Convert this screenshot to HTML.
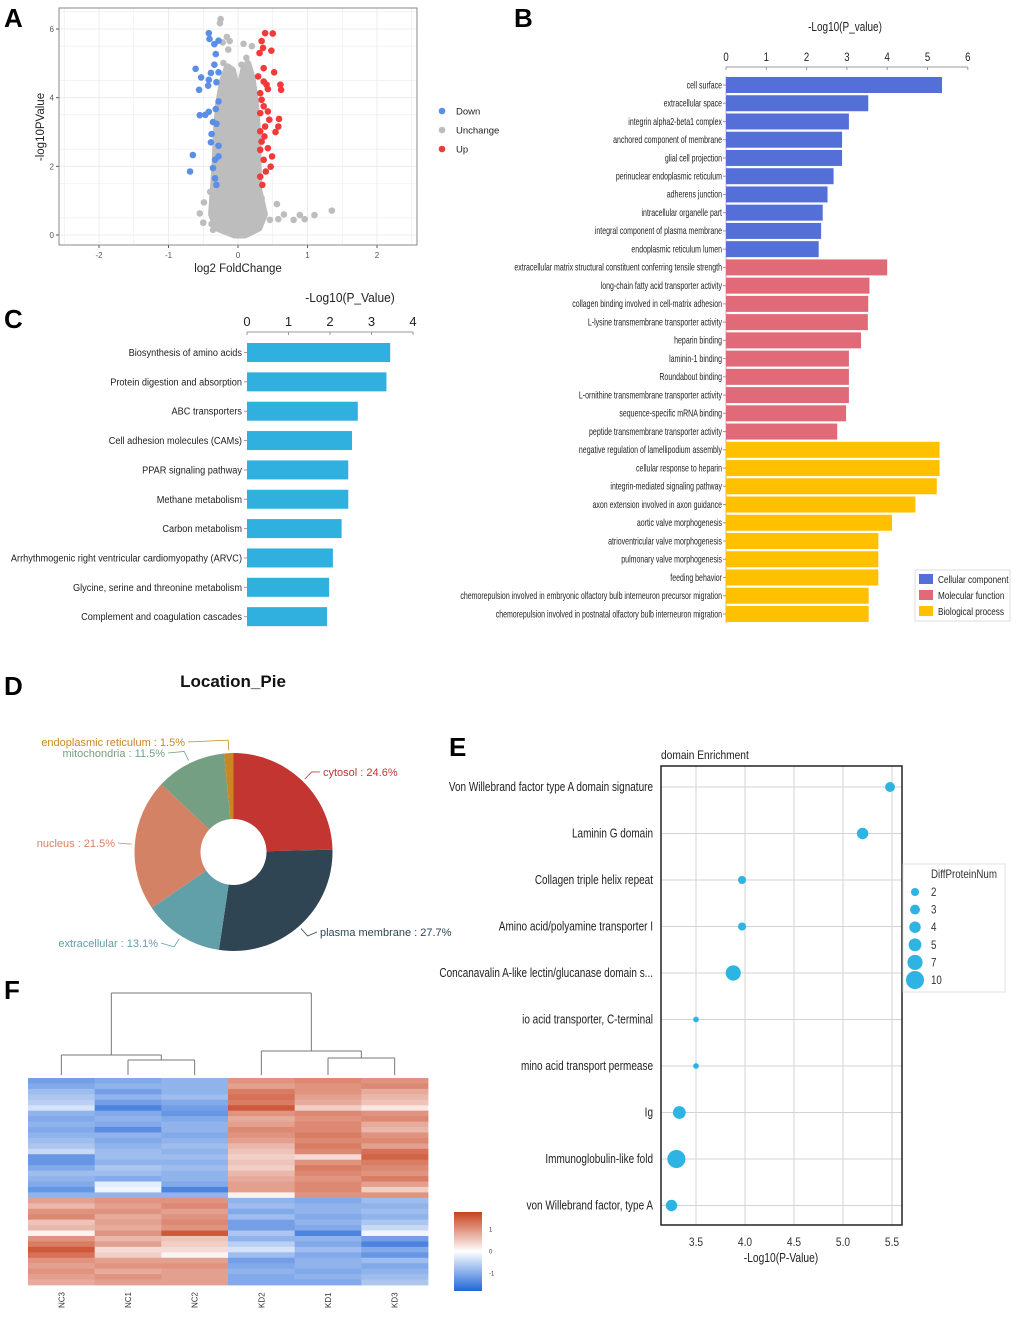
<!DOCTYPE html>
<html><head><meta charset="utf-8"><style>
html,body{margin:0;padding:0;background:#fff}
svg{display:block;font-family:"Liberation Sans",sans-serif}
</style></head><body>
<svg id="fig" width="1020" height="1317" viewBox="0 0 1020 1317" xmlns="http://www.w3.org/2000/svg">
<rect width="1020" height="1317" fill="#fff"/>
<g font-weight="bold" font-size="26" fill="#000">
<text x="4" y="27">A</text>
<text x="514" y="27">B</text>
<text x="4" y="328">C</text>
<text x="4" y="695">D</text>
<text x="449" y="756">E</text>
<text x="4" y="999">F</text>
</g>
</svg>
<script>
// ---------- DATA ----------
// Panel A volcano
const downX=[-0.42,-0.41,-0.34,-0.28,-0.32,-0.34,-0.61,-0.39,-0.28,-0.53,-0.42,-0.31,-0.56,-0.43,-0.28,-0.55,-0.47,-0.42,-0.32,-0.36,-0.31,-0.38,-0.39,-0.28,-0.65,-0.33,-0.28,-0.69,-0.36,-0.33,-0.31];
const downY=[5.88,5.71,5.56,5.66,5.27,4.96,4.84,4.72,4.74,4.59,4.52,4.45,4.23,4.35,3.89,3.49,3.50,3.59,3.67,3.29,3.24,2.94,2.70,2.60,2.33,2.19,2.29,1.85,1.95,1.65,1.46];
const upX=[0.39,0.50,0.34,0.36,0.48,0.31,0.37,0.52,0.29,0.37,0.41,0.61,0.62,0.43,0.32,0.34,0.37,0.43,0.32,0.45,0.59,0.58,0.54,0.39,0.32,0.38,0.34,0.43,0.32,0.49,0.37,0.47,0.40,0.32,0.35];
const upY=[5.88,5.87,5.65,5.45,5.37,5.30,4.86,4.74,4.62,4.47,4.38,4.38,4.23,4.25,4.13,3.94,3.75,3.60,3.55,3.36,3.38,3.16,3.00,3.16,3.02,2.87,2.72,2.53,2.48,2.29,2.19,1.99,1.85,1.70,1.46];
const grayX=[-0.25,-0.26,-0.22,-0.16,-0.12,-0.14,0.08,0.20,0.12,0.05,-0.21,-0.16,-0.40,-0.49,-0.55,-0.50,-0.38,0.56,0.34,0.46,0.58,0.66,0.80,0.89,0.96,1.10,1.35,0.37,0.22,-0.36,-0.10,0.10,0.15,-0.20];
const grayY=[6.29,6.17,5.61,5.77,5.65,5.40,5.57,5.50,5.16,4.96,5.01,4.86,1.26,0.95,0.63,0.36,0.32,0.90,1.07,0.44,0.46,0.60,0.44,0.58,0.46,0.58,0.71,0.68,0.24,0.15,4.60,4.80,4.40,4.20];
const cloudX=[-0.05,-0.3,-0.38,-0.36,-0.33,-0.31,-0.28,-0.22,-0.15,-0.08,-0.02,0.03,0.08,0.14,0.2,0.25,0.28,0.29,0.3,0.38,0.3,0.1];
const cloudY=[0.0,0.2,0.6,1.2,2.0,3.0,3.8,4.5,4.9,4.8,4.3,4.3,4.8,5.0,4.6,3.9,3.0,2.0,1.3,0.6,0.2,0.0];
const volXTicks=[-2,-1,0,1,2];
const volYTicks=[0,2,4,6];

// Panel B GO
const goTerms=["cell surface","extracellular space","integrin alpha2-beta1 complex","anchored component of membrane","glial cell projection","perinuclear endoplasmic reticulum","adherens junction","intracellular organelle part","integral component of plasma membrane","endoplasmic reticulum lumen","extracellular matrix structural constituent conferring tensile strength","long-chain fatty acid transporter activity","collagen binding involved in cell-matrix adhesion","L-lysine transmembrane transporter activity","heparin binding","laminin-1 binding","Roundabout binding","L-ornithine transmembrane transporter activity","sequence-specific mRNA binding","peptide transmembrane transporter activity","negative regulation of lamellipodium assembly","cellular response to heparin","integrin-mediated signaling pathway","axon extension involved in axon guidance","aortic valve morphogenesis","atrioventricular valve morphogenesis","pulmonary valve morphogenesis","feeding behavior","chemorepulsion involved in embryonic olfactory bulb interneuron precursor migration","chemorepulsion involved in postnatal olfactory bulb interneuron migration"];
const goValues=[5.36,3.53,3.05,2.88,2.88,2.67,2.52,2.40,2.36,2.30,4.0,3.56,3.53,3.52,3.35,3.05,3.05,3.05,2.98,2.76,5.3,5.3,5.23,4.7,4.12,3.78,3.78,3.78,3.54,3.54];
const goCategory=["CC","CC","CC","CC","CC","CC","CC","CC","CC","CC","MF","MF","MF","MF","MF","MF","MF","MF","MF","MF","BP","BP","BP","BP","BP","BP","BP","BP","BP","BP"];
const goTicks=[0,1,2,3,4,5,6];

// Panel C KEGG
const keggTerms=["Biosynthesis of amino acids","Protein digestion and absorption","ABC transporters","Cell adhesion molecules (CAMs)","PPAR signaling pathway","Methane metabolism","Carbon metabolism","Arrhythmogenic right ventricular cardiomyopathy (ARVC)","Glycine, serine and threonine metabolism","Complement and coagulation cascades"];
const keggValues=[3.45,3.36,2.67,2.53,2.44,2.44,2.28,2.07,1.98,1.93];
const keggTicks=[0,1,2,3,4];

// Panel D pie
const pieLabels=["cytosol","plasma membrane","extracellular","nucleus","mitochondria","endoplasmic reticulum"];
const pieValues=[24.6,27.7,13.1,21.5,11.5,1.5];

// Panel E domain
const domTerms=["Von Willebrand factor type A domain signature","Laminin G domain","Collagen triple helix repeat","Amino acid/polyamine transporter I","Concanavalin A-like lectin/glucanase domain s...","io acid transporter, C-terminal","mino acid transport permease","Ig","Immunoglobulin-like fold","von Willebrand factor, type A"];
const domValues=[5.48,5.2,3.97,3.97,3.88,3.5,3.5,3.33,3.3,3.25];
const domCounts=[3,4,2,2,7,1,1,5,10,4];
const domTicks=[3.5,4.0,4.5,5.0,5.5];
const sizeLegend=[2,3,4,5,7,10];

// Panel F heatmap
const heatCols=["NC3","NC1","NC2","KD2","KD1","KD3"];
const heatRows=[
[-1.0,-0.9,-0.8,0.9,1.0,0.9],[-0.9,-0.8,-0.8,0.8,0.9,1.0],[-0.7,-1.0,-0.8,1.1,0.9,0.7],[-0.6,-0.8,-0.7,1.2,0.8,0.6],
[-0.5,-1.0,-0.9,1.1,0.7,0.5],[-0.3,-1.3,-1.0,1.4,0.4,0.2],[-0.8,-0.9,-1.1,0.9,1.0,0.9],[-0.9,-0.8,-0.9,0.7,0.9,1.0],
[-0.8,-0.9,-0.8,0.8,1.0,0.7],[-0.9,-1.2,-0.8,1.0,1.0,0.6],[-0.8,-0.8,-0.9,0.9,1.1,0.9],[-0.7,-0.9,-0.8,0.8,1.0,1.0],
[-0.6,-0.8,-0.7,0.6,1.1,0.8],[-0.4,-0.7,-0.8,0.5,1.0,1.2],[-1.1,-0.7,-0.7,0.4,0.3,1.3],[-1.1,-0.8,-0.8,0.5,0.9,1.1],
[-0.9,-0.6,-0.7,0.4,1.1,1.0],[-0.7,-0.7,-0.8,0.6,1.0,0.9],[-0.8,-0.9,-0.8,0.7,0.9,1.1],[-0.9,-0.2,-0.9,0.8,1.0,0.8],
[-1.1,-0.1,-1.3,0.8,1.0,0.4],[-0.8,-0.8,-0.8,0.1,0.9,0.9],
[0.8,0.9,0.9,-0.8,-0.9,-0.7],[0.6,0.8,1.0,-0.7,-0.8,-0.8],[0.9,0.9,0.8,-0.9,-0.8,-0.7],[1.0,0.7,0.9,-0.7,-0.9,-0.8],
[0.5,0.8,1.0,-1.0,-0.8,-0.6],[0.6,0.7,0.9,-1.0,-0.9,-0.4],[0.1,0.9,1.4,-0.6,-1.3,-0.1],[0.9,0.6,0.5,-0.8,-0.8,-1.0],
[1.1,0.8,0.4,-0.5,-0.9,-1.3],[1.4,0.3,0.3,-0.3,-0.7,-0.9],[1.2,0.4,0.1,-0.7,-0.9,-1.1],[0.9,0.8,0.8,-1.0,-0.8,-0.7],
[0.8,0.9,0.9,-0.9,-0.8,-0.9],[0.9,0.7,0.8,-0.8,-0.9,-0.8],[0.8,0.9,0.8,-0.9,-0.8,-0.7],[0.7,0.8,0.8,-0.9,-0.9,-0.6]];
const colorTicks=[1,0,-1];

// ---------- HELPERS ----------
const NS="http://www.w3.org/2000/svg";
const svg=document.getElementById('fig');
function mk(tag,attrs,parent){const e=document.createElementNS(NS,tag);for(const k in attrs)e.setAttribute(k,attrs[k]);(parent||svg).appendChild(e);return e;}
function txt(s,x,y,attrs,parent,sx){const a=Object.assign({},attrs);if(sx){a.transform=`translate(${x},${y}) scale(${sx},1)`;a.x=0;a.y=0;}else{a.x=x;a.y=y;}const t=mk('text',a,parent);t.textContent=s;return t;}

// ---------- PANEL A ----------
(function(){
const g=mk('g',{});


const L=59,R=417,T=8,B=245;
const sx=v=>238+v*69.5, sy=v=>235-v*34.33;
const bg=mk('rect',{x:L,y:T,width:R-L,height:B-T,fill:'#fff'},g);


for(let v=-2.5;v<=2.5;v+=0.5){const gl=mk('line',{x1:sx(v),x2:sx(v),y1:T,y2:B,stroke:'#ececec','stroke-width':Number.isInteger(v)?1:0.6},g);}
for(let v=-0.5;v<=6.5;v+=1){if(sy(v)>T&&sy(v)<B){const gl=mk('line',{x1:L,x2:R,y1:sy(v),y2:sy(v),stroke:'#ececec','stroke-width':0.6},g);}}
volYTicks.forEach(v=>{const gl=mk('line',{x1:L,x2:R,y1:sy(v),y2:sy(v),stroke:'#ececec'},g);
 const t=txt(String(v),54,sy(v)+3,{'font-size':8,fill:'#555','text-anchor':'end'},g);
 mk('line',{x1:56,x2:L,y1:sy(v),y2:sy(v),stroke:'#555'},g);});
volXTicks.forEach(v=>{const t=txt(String(v),sx(v),258,{'font-size':8,fill:'#555','text-anchor':'middle'},g);mk('line',{x1:sx(v),x2:sx(v),y1:B,y2:B+3,stroke:'#555'},g);});
const cl=mk('polygon',{points:cloudX.map((x,i)=>sx(x)+','+sy(cloudY[i])).join(' '),fill:'#bdbdbd',stroke:'#bdbdbd','stroke-width':7,'stroke-linejoin':'round'},g);


grayX.forEach((x,i)=>{const c=mk('circle',{cx:sx(x),cy:sy(grayY[i]),r:3.3,fill:'#bdbdbd'},g);});
downX.forEach((x,i)=>{const c=mk('circle',{cx:sx(x),cy:sy(downY[i]),r:3.3,fill:'#5b8ee6'},g);});
upX.forEach((x,i)=>{const c=mk('circle',{cx:sx(x),cy:sy(upY[i]),r:3.3,fill:'#f23a3a'},g);});
const fr=mk('rect',{x:L,y:T,width:R-L,height:B-T,fill:'none',stroke:'#888'},g);


const xt=txt('log2 FoldChange',238,272,{'font-size':11.5,fill:'#222','text-anchor':'middle'},g);


const yt=mk('text',{x:0,y:0,transform:'translate(44,127) rotate(-90)','font-size':11.5,fill:'#222','text-anchor':'middle'},g);yt.textContent='-log10PValue';


[['Down','#5b8ee6',111],['Unchange','#bdbdbd',130],['Up','#f23a3a',149]].forEach(d=>{
 const lg=mk('g',{},g);
 
 
 mk('circle',{cx:442,cy:d[2],r:3.3,fill:d[1]},lg);txt(d[0],456,d[2]+3.5,{'font-size':9.5,fill:'#222'},lg);});
})();

// ---------- PANEL B ----------
(function(){
const g=mk('g',{});


const x0=726, sx=v=>x0+v*40.3, rowY=i=>85+i*18.24;
const cols={CC:'#5470d8',MF:'#e06a78',BP:'#ffc000'};
const t=txt('-Log10(P_value)',845,31,{'font-size':12.5,fill:'#222','text-anchor':'middle'},g,0.8);


mk('line',{x1:sx(0),x2:sx(6),y1:67,y2:67,stroke:'#999'},g);
goTicks.forEach(v=>{mk('line',{x1:sx(v),x2:sx(v),y1:67,y2:70,stroke:'#999'},g);const tk=txt(String(v),sx(v),61,{'font-size':12,fill:'#222','text-anchor':'middle'},g,0.8);});
mk('line',{x1:x0,x2:x0,y1:76,y2:623,stroke:'#bbb'},g);
goTerms.forEach((s,i)=>{const y=rowY(i);
 const b=mk('rect',{x:x0,y:y-8,width:sx(goValues[i])-x0,height:16,fill:cols[goCategory[i]]},g);
 
 
 mk('line',{x1:x0-3,x2:x0,y1:y,y2:y,stroke:'#999'},g);
 const l=txt(s,722,y+3.3,{'font-size':10,fill:'#222','text-anchor':'end'},g,0.7);
 
 });
const lg=mk('g',{},g);


mk('rect',{x:915,y:570,width:95,height:51,fill:'#fff',stroke:'#ddd'},lg);
[['Cellular component','#5470d8'],['Molecular function','#e06a78'],['Biological process','#ffc000']].forEach((d,i)=>{
 const e=mk('g',{},lg);
 
 
 mk('rect',{x:919,y:574+i*16,width:14,height:10,fill:d[1]},e);txt(d[0],938,583+i*16,{'font-size':10.5,fill:'#222'},e,0.78);});
})();

// ---------- PANEL C ----------
(function(){
const g=mk('g',{});


const x0=247, sx=v=>x0+v*41.5, rowY=i=>352.5+i*29.35;
const t=txt('-Log10(P_Value)',350,302,{'font-size':13,fill:'#222','text-anchor':'middle'},g,0.92);


mk('line',{x1:sx(0),x2:sx(4),y1:332,y2:332,stroke:'#999'},g);
keggTicks.forEach(v=>{mk('line',{x1:sx(v),x2:sx(v),y1:332,y2:335,stroke:'#999'},g);const tk=txt(String(v),sx(v),326,{'font-size':13,fill:'#222','text-anchor':'middle'},g);});
keggTerms.forEach((s,i)=>{const y=rowY(i);
 const b=mk('rect',{x:x0,y:y-9.5,width:sx(keggValues[i])-x0,height:19,fill:'#2fb0df'},g);
 
 
 mk('line',{x1:x0-3,x2:x0,y1:y,y2:y,stroke:'#999'},g);
 const l=txt(s,242,y+3.5,{'font-size':10,fill:'#222','text-anchor':'end'},g,0.92);
 
 });
})();

// ---------- PANEL D ----------
(function(){
const g=mk('g',{});


const cx=233.5,cy=852,R=99,r=33;
const colors=['#c23531','#2f4554','#61a0a8','#d48265','#749f83','#ca8622'];
const lblColors=['#c23531','#2f4554','#61a0a8','#d48265','#749f83','#ca8622'];
const t=txt('Location_Pie',233,687,{'font-size':17,'font-weight':'bold',fill:'#111','text-anchor':'middle'},g);


const tot=pieValues.reduce((a,b)=>a+b,0);
let a0=0;
const P=(a,rad)=>[cx+rad*Math.sin(a),cy-rad*Math.cos(a)];
const lblPos=[[323,776,'start'],[320,936,'start'],[158,947,'end'],[115,847,'end'],[165,757,'end'],[185,746,'end']];
pieValues.forEach((v,i)=>{const a1=a0+v/tot*2*Math.PI;const lg=(a1-a0)>Math.PI?1:0;
 const p1=P(a0,R),p2=P(a1,R),p3=P(a1,r),p4=P(a0,r);
 const s=mk('path',{d:`M${p1} A${R},${R} 0 ${lg} 1 ${p2} L${p3} A${r},${r} 0 ${lg} 0 ${p4}Z`,fill:colors[i]},g);
 
 
 const am=(a0+a1)/2, e=P(am,R+3), e2=P(am,R+13);
 const lp=lblPos[i]; const tx=lp[2]==='start'?lp[0]-3:lp[0]+3;
 mk('polyline',{points:`${e} ${e2} ${tx},${lp[1]-4}`,fill:'none',stroke:lblColors[i],'stroke-width':0.8},g);
 const l=txt(pieLabels[i]+' : '+v+'%',lp[0],lp[1],{'font-size':11,fill:lblColors[i],'text-anchor':lp[2]},g);
 
 
 a0=a1;});
})();

// ---------- PANEL E ----------
(function(){
const g=mk('g',{});


const L=661,R=902,T=766,B=1225;
const sx=v=>696+(v-3.5)*98, rowY=i=>787+i*46.5, rad=n=>2.86*Math.sqrt(n);
const t=txt('domain Enrichment',661,759,{'font-size':12,fill:'#222'},g,0.85);


domTicks.forEach(v=>{mk('line',{x1:sx(v),x2:sx(v),y1:T,y2:B,stroke:'#d3d3d3','stroke-width':1},g);
 const tk=txt(v.toFixed(1),sx(v),1246,{'font-size':12,fill:'#333','text-anchor':'middle'},g,0.85);
 });
domTerms.forEach((s,i)=>{const y=rowY(i);
 mk('line',{x1:L,x2:R,y1:y,y2:y,stroke:'#d3d3d3'},g);
 const l=txt(s,653,y+4,{'font-size':12.5,fill:'#222','text-anchor':'end'},g,0.8);
 
 });
domValues.forEach((v,i)=>{const c=mk('circle',{cx:sx(v),cy:rowY(i),r:rad(domCounts[i]),fill:'#2eb4e2'},g);
 
 });
const fr=mk('rect',{x:L,y:T,width:R-L,height:B-T,fill:'none',stroke:'#222','stroke-width':1.5},g);


const xt=txt('-Log10(P-Value)',781,1262,{'font-size':12.5,fill:'#222','text-anchor':'middle'},g,0.82);


const lg=mk('g',{},g);


mk('rect',{x:903,y:864,width:102,height:128,fill:'#fff',stroke:'#e2e2e2'},lg);
txt('DiffProteinNum',931,878,{'font-size':11.5,fill:'#333'},lg,0.85);
sizeLegend.forEach((n,i)=>{const y=892+i*17.6;const e=mk('g',{},lg);
 
 
 mk('circle',{cx:915,cy:y,r:rad(n),fill:'#2eb4e2'},e);txt(String(n),931,y+4,{'font-size':11.5,fill:'#333'},e,0.85);});
})();

// ---------- PANEL F ----------
(function(){
const g=mk('g',{});


const L=28,R=428,T=1078,B=1285;
const cw=(R-L)/heatCols.length, rh=(B-T)/heatRows.length;
function col(v){const t=Math.max(-1,Math.min(1,v/1.6));const w=[255,255,255];const e=t>=0?[200,64,30]:[33,102,216];const k=Math.abs(t);return `rgb(${w.map((c,j)=>Math.round(c+(e[j]-c)*k)).join(',')})`;}
heatRows.forEach((row,ri)=>row.forEach((v,ci)=>{const c=mk('rect',{x:L+ci*cw,y:T+ri*rh,width:cw+0.4,height:rh+0.4,fill:col(v)},g);
 
 }));
heatCols.forEach((s,i)=>{const x=L+(i+0.5)*cw;const t=mk('text',{x:0,y:0,transform:`translate(${x+3},1308) rotate(-90)`,'font-size':8,fill:'#333'},g);t.textContent=s;
 
 });
const cx=i=>L+(i+0.5)*cw;
const d=mk('g',{fill:'none',stroke:'#777','stroke-width':1},g);


const segs=[[cx(1),1075,cx(1),1060],[cx(2),1075,cx(2),1060],[cx(1),1060,cx(2),1060],
[cx(0),1075,cx(0),1055],[(cx(1)+cx(2))/2,1060,(cx(1)+cx(2))/2,1055],[cx(0),1055,(cx(1)+cx(2))/2,1055],
[cx(4),1075,cx(4),1058],[cx(5),1075,cx(5),1058],[cx(4),1058,cx(5),1058],
[cx(3),1075,cx(3),1051],[(cx(4)+cx(5))/2,1058,(cx(4)+cx(5))/2,1051],[cx(3),1051,(cx(4)+cx(5))/2,1051],
[(cx(0)+(cx(1)+cx(2))/2)/2,1055,(cx(0)+(cx(1)+cx(2))/2)/2,993],[(cx(3)+(cx(4)+cx(5))/2)/2,1051,(cx(3)+(cx(4)+cx(5))/2)/2,993],
[(cx(0)+(cx(1)+cx(2))/2)/2,993,(cx(3)+(cx(4)+cx(5))/2)/2,993]];
segs.forEach(s=>mk('line',{x1:s[0],y1:s[1],x2:s[2],y2:s[3]},d));
const defs=mk('defs',{});
const lgr=mk('linearGradient',{id:'cbar',x1:0,y1:0,x2:0,y2:1},defs);
mk('stop',{offset:'0','stop-color':'#c8401e'},lgr);mk('stop',{offset:'0.5','stop-color':'#ffffff'},lgr);mk('stop',{offset:'1','stop-color':'#2166d8'},lgr);
const cb=mk('rect',{x:454,y:1212,width:28,height:79,fill:'url(#cbar)'},g);


colorTicks.forEach(v=>{const t=txt(String(v),489,1251.5-v*22+2,{'font-size':6,fill:'#333'},g);
 
 });
})();
</script>
</body></html>
